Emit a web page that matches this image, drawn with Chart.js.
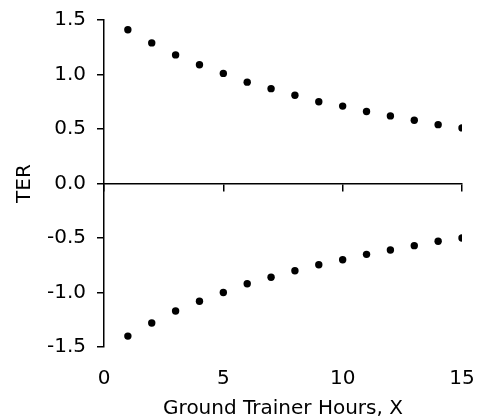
<!DOCTYPE html>
<html>
<head>
<meta charset="utf-8">
<script src="https://cdn.jsdelivr.net/npm/chart.js@4/dist/chart.umd.min.js"></script>
<style>
  html, body { margin: 0; padding: 0; background: #ffffff; }
  #wrap { width: 480px; height: 420px; }
</style>
</head>
<body>
<div id="wrap"><canvas id="c" width="480" height="420"></canvas></div>
<script>
// Data
const hours = [1, 2, 3, 4, 5, 6, 7, 8, 9, 10, 11, 12, 13, 14, 15];
const terUpper = [1.41, 1.29, 1.18, 1.09, 1.01, 0.93, 0.87, 0.81, 0.75, 0.71, 0.66, 0.62, 0.58, 0.54, 0.51];
const terLower = [-1.40, -1.28, -1.17, -1.08, -1.00, -0.92, -0.86, -0.80, -0.745, -0.70, -0.65, -0.61, -0.57, -0.53, -0.50];
const xTicks = [0, 5, 10, 15];
const yTicks = [-1.5, -1.0, -0.5, 0.0, 0.5, 1.0, 1.5];
const xTitle = 'Ground Trainer Hours, X';
const yTitle = 'TER';

const FONT = 'DejaVu Sans, Verdana, sans-serif';

function toPoints(xs, ys) {
  return xs.map((x, i) => ({ x: x, y: ys[i] }));
}
function noPad(s) { s.paddingLeft = 0; s.paddingRight = 0; s.paddingTop = 0; s.paddingBottom = 0; }

new Chart(document.getElementById('c'), {
  type: 'scatter',
  data: {
    datasets: [
      { data: toPoints(hours, terUpper), backgroundColor: '#000', borderWidth: 0, pointRadius: 3.7 },
      { data: toPoints(hours, terLower), backgroundColor: '#000', borderWidth: 0, pointRadius: 3.7 }
    ]
  },
  options: {
    responsive: false,
    animation: false,
    layout: { padding: { left: 10, right: 18, top: 20, bottom: 0 } },
    plugins: { legend: { display: false }, tooltip: { enabled: false } },
    scales: {
      x: {
        type: 'linear',
        position: 'bottom',
        min: xTicks[0],
        max: xTicks[xTicks.length - 1],
        afterBuildTicks: s => { s.ticks = xTicks.map(v => ({ value: v })); },
        border: { display: false },
        grid: { display: false, drawTicks: false },
        ticks: { color: '#000', font: { family: FONT, size: 20 }, padding: 20, maxRotation: 0 },
        title: { display: true, text: xTitle, color: '#000', font: { family: FONT, size: 20, lineHeight: 1.1 }, padding: { top: 4, bottom: 0 } },
        afterFit: s => { s.height = 73; noPad(s); }
      },
      x2: {
        type: 'linear',
        axis: 'x',
        position: { y: 0 },
        min: xTicks[0],
        max: xTicks[xTicks.length - 1],
        afterBuildTicks: s => { s.ticks = xTicks.map(v => ({ value: v })); },
        border: { display: true, color: '#000', width: 1.5 },
        grid: { drawOnChartArea: false, drawTicks: true, tickLength: 7, color: '#000', lineWidth: 1.5 },
        ticks: { display: false },
        afterFit: s => { noPad(s); }
      },
      y: {
        type: 'linear',
        position: 'left',
        min: yTicks[0],
        max: yTicks[yTicks.length - 1],
        afterBuildTicks: s => { s.ticks = yTicks.map(v => ({ value: v })); },
        border: { display: true, color: '#000', width: 1.5 },
        grid: { drawOnChartArea: false, drawTicks: true, tickLength: 7, color: '#000', lineWidth: 1.5 },
        ticks: { color: '#000', font: { family: FONT, size: 20 }, padding: 11, callback: v => Number(v).toFixed(1) },
        title: { display: true, text: yTitle, color: '#000', font: { family: FONT, size: 20 }, padding: { top: 3, bottom: 4 } },
        afterFit: s => { s.width = 94; noPad(s); }
      }
    }
  }
});
</script>
</body>
</html>
